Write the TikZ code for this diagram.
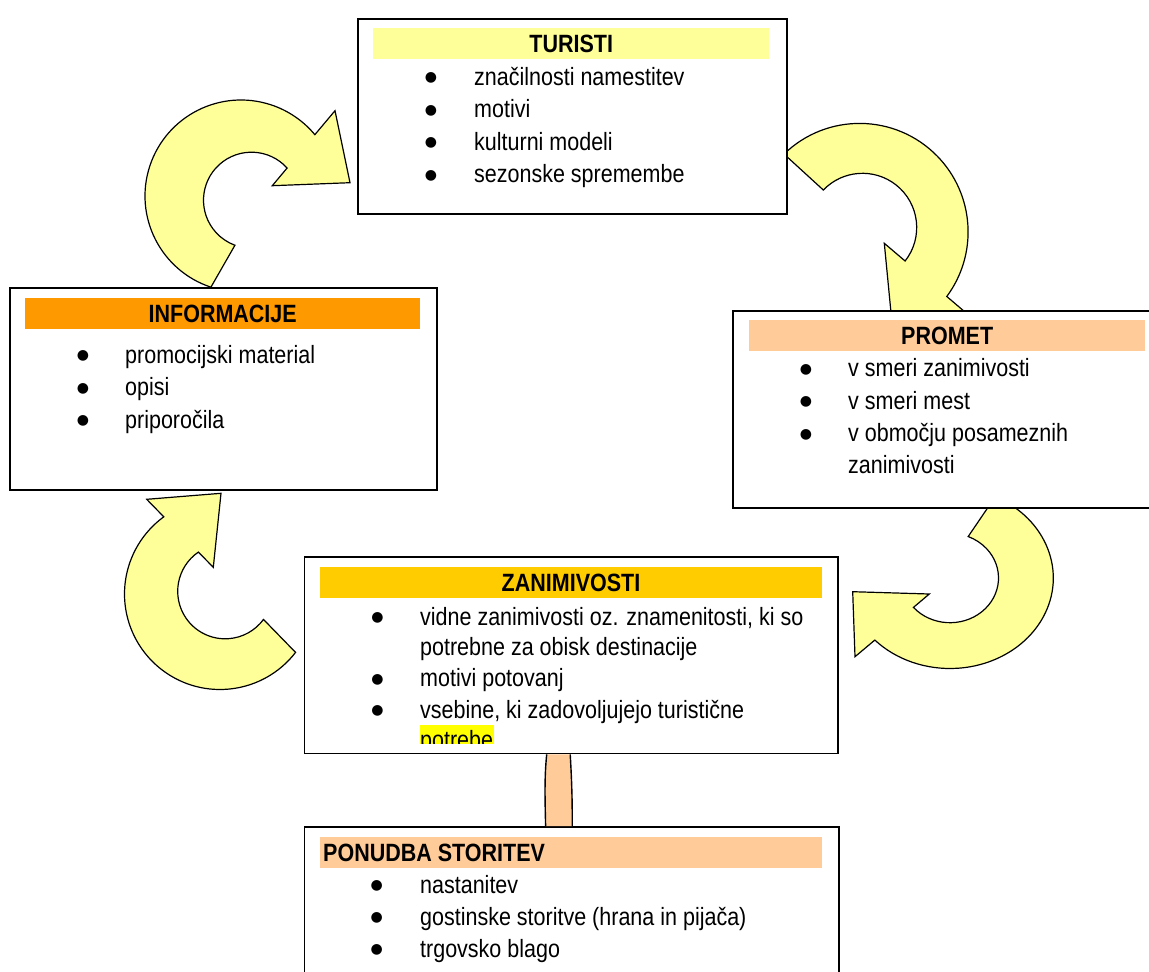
\documentclass[tikz,border=0pt]{standalone}
\usepackage{fontspec}
\setmainfont{Liberation Sans}[FakeStretch=0.86]
\newfontfamily\bulletfont{DejaVu Sans}
\usetikzlibrary{calc}
\definecolor{arrowyellow}{HTML}{FFFF99}
\definecolor{turband}{HTML}{FFFF99}
\definecolor{infband}{HTML}{FF9900}
\definecolor{peach}{HTML}{FFCC99}
\definecolor{zanband}{HTML}{FFCC00}
\definecolor{hl}{HTML}{FFFF00}
\begin{document}
\begin{tikzpicture}[x=1pt,y=-1pt,
  carrow/.style={fill=arrowyellow, draw=black, line width=1.2pt, line join=miter},
  box/.style={draw=black, fill=white, line width=1.6pt, inner sep=0pt, anchor=north west},
  band/.style={inner sep=0pt, anchor=north west, minimum height=31pt, font=\fontsize{25}{30}\selectfont\bfseries},
  ttl/.style={inner sep=0pt, font=\fontsize{25}{30}\selectfont\bfseries},
  li/.style={inner sep=0pt, anchor=base west, font=\fontsize{25}{30}\selectfont},
  blt/.style={inner sep=0pt, anchor=center, font=\bulletfont\fontsize{14}{14}\selectfont},
  connfill/.style={fill=peach},
  connline/.style={draw=black, line width=1.4pt}]
\useasboundingbox (0,0) rectangle (1149,972);
\clip (0,0) rectangle (1149,972);

% curved arrows (drawn beneath the boxes)
% INFORMACIJE -> TURISTI
\draw[carrow] ($(241,196)+(108.25:96)$) arc[start angle=108.25, end angle=320.3, radius=96]
  -- (335,110.7) -- (350,182.7) -- (272.3,185.7)
  -- ($(251.5,200.2)+(317.9:48)$) arc[start angle=317.9, end angle=110.2, radius=48] -- cycle;
% TURISTI -> PROMET
\draw[carrow] ($(859.6,231.9)+(225.85:108.5)$) arc[start angle=225.85, end angle=396.53, radius=108.5]
  -- (965,312) -- (892,323) -- (884.3,243.3)
  -- ($(862.5,227.5)+(38.18:54.2)$) arc[start angle=38.18, end angle=-136.27, radius=54.2] -- cycle;
% PROMET -> ZANIMIVOSTI
\draw[carrow] ($(950,578)+({103.3*cos(-64)},{90.5*sin(-64)})$) arc[start angle=-64, end angle=136.7, x radius=103.3, y radius=90.5]
  -- (855,656.7) -- (852.7,591.7) -- (929.3,594)
  -- ($(950,578)+({48.5*cos(138.9)},{44.7*sin(138.9)})$) arc[start angle=138.9, end angle=-68, x radius=48.5, y radius=44.7] -- cycle;
% ZANIMIVOSTI -> INFORMACIJE
\draw[carrow] ($(220,594)+(37.7:95.5)$) arc[start angle=37.7, end angle=233.94, radius=95.5]
  -- (146.7,499.3) -- (221,493.3) -- (213.3,567.3)
  -- ($(225.2,591.3)+(235.64:47.5)$) arc[start angle=235.64, end angle=36.3, radius=47.5] -- cycle;

% boxes
\node[box, minimum width=429pt, minimum height=195pt] (tur) at (357,18) {};
\node[box, minimum width=427pt, minimum height=202pt] (inf) at (9,287) {};
\node[box, minimum width=440pt, minimum height=197pt] (pro) at (732,310) {};
\node[box, minimum width=533.2pt, minimum height=196.7pt] (zan) at (303.8,556) {};
\node[box, minimum width=534.4pt, minimum height=200pt] (pon) at (303.6,826) {};

% connector bar between ZANIMIVOSTI and PONUDBA STORITEV
\fill[connfill] ($(zan.south)+(-24.5,0)$) .. controls ($(zan.south)+(-27,25)$) and ($(pon.north)+(-26.5,-25)$) .. ($(pon.north)+(-26,0)$)
  -- ($(pon.north)+(0.6,0)$) .. controls ($(pon.north)+(0.8,-25)$) and ($(zan.south)+(0.5,25)$) .. ($(zan.south)+(-1,0)$) -- cycle;
\draw[connline] ($(zan.south)+(-24.5,0)$) .. controls ($(zan.south)+(-27,25)$) and ($(pon.north)+(-26.5,-25)$) .. ($(pon.north)+(-26,0)$);
\draw[connline] ($(pon.north)+(0.6,0)$) .. controls ($(pon.north)+(0.8,-25)$) and ($(zan.south)+(0.5,25)$) .. ($(zan.south)+(-1,0)$);

% TURISTI
\node[band, fill=turband, minimum width=396pt] (turh) at (373,28) {TURISTI};
\node[blt] (t1b) at (431,78) {●};
\node[li] (t1) at (474,85) {značilnosti namestitev};
\node[blt] (t2b) at (431,110.5) {●};
\node[li] (t2) at (474,117.5) {motivi};
\node[blt] (t3b) at (431,143) {●};
\node[li] (t3) at (474,150) {kulturni modeli};
\node[blt] (t4b) at (431,175.5) {●};
\node[li] (t4) at (474,182.5) {sezonske spremembe};

% INFORMACIJE
\node[band, fill=infband, minimum width=395pt] (infh) at (25,298) {INFORMACIJE};
\node[blt] (i1b) at (83,356) {●};
\node[li] (i1) at (125,363) {promocijski material};
\node[blt] (i2b) at (83,388.5) {●};
\node[li] (i2) at (125,395.5) {opisi};
\node[blt] (i3b) at (83,421) {●};
\node[li] (i3) at (125,428) {priporočila};

% PROMET
\node[band, fill=peach, minimum width=396pt] (proh) at (749,320) {PROMET};
\node[blt] (p1b) at (806,369.5) {●};
\node[li] (p1) at (848,376.5) {v smeri zanimivosti};
\node[blt] (p2b) at (806,402) {●};
\node[li] (p2) at (848,409) {v smeri mest};
\node[blt] (p3b) at (806,434.5) {●};
\node[li] (p3) at (848,441.5) {v območju posameznih};
\node[li] (p3c) at (848,473.3) {zanimivosti};

% ZANIMIVOSTI
\node[band, fill=zanband, minimum width=502.4pt] (zanh) at (319.6,566.7) {ZANIMIVOSTI};
\node[blt] (z1b) at (377.5,618) {●};
\node[li] (z1) at (420,625) {vidne zanimivosti oz. znamenitosti, ki so};
\node[li] (z1c) at (420,655) {potrebne za obisk destinacije};
\node[blt] (z2b) at (377.5,679.7) {●};
\node[li] (z2) at (420,686.7) {motivi potovanj};
\node[blt] (z3b) at (377.5,711.3) {●};
\node[li] (z3) at (420,718.3) {vsebine, ki zadovoljujejo turistične};
\begin{scope}
  \clip (418,724) rectangle (520,743.5);
  \fill[hl] (419.6,725) rectangle (494,743.5);
  \node[li] (z3c) at (420,748.5) {potrebe};
\end{scope}

% PONUDBA STORITEV
\node[band, fill=peach, minimum width=502pt] (ponh) at (320,836.7) {};
\node[ttl, anchor=west] (pont) at ($(ponh.west)+(3,0)$) {PONUDBA STORITEV};
\node[blt] (s1b) at (376.8,886) {●};
\node[li] (s1) at (420,893) {nastanitev};
\node[blt] (s2b) at (376.8,918) {●};
\node[li] (s2) at (420,925) {gostinske storitve (hrana in pijača)};
\node[blt] (s3b) at (376.8,950) {●};
\node[li] (s3) at (420,957) {trgovsko blago};
\end{tikzpicture}
\end{document}
